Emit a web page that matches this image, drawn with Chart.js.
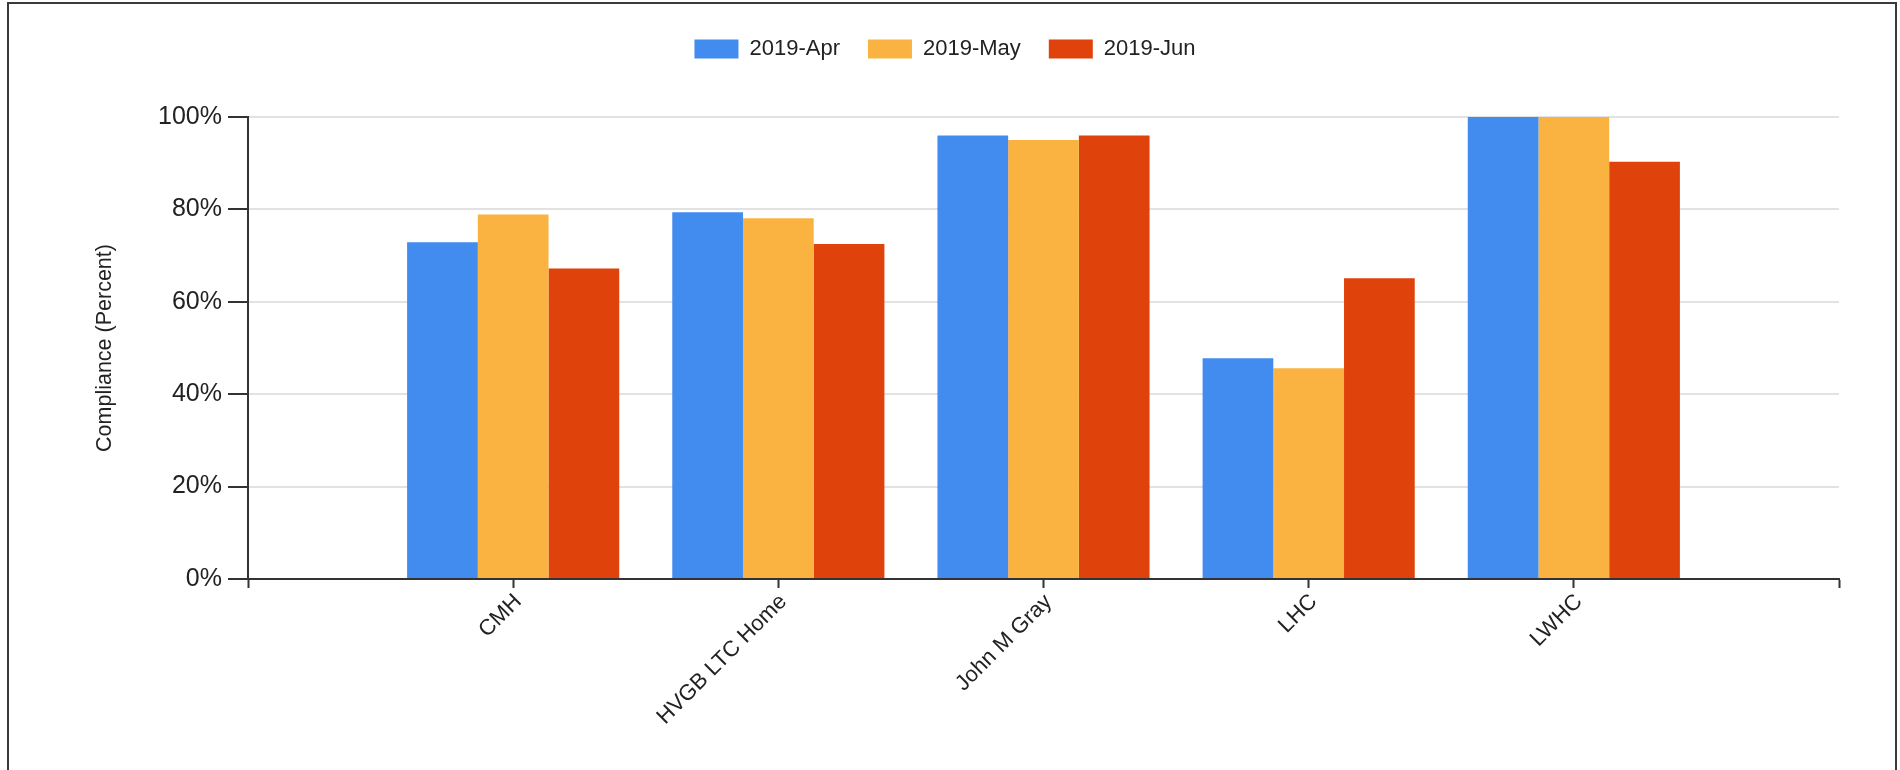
<!DOCTYPE html>
<html>
<head>
<meta charset="utf-8">
<title>Compliance by Home</title>
<script src="https://cdn.jsdelivr.net/npm/chart.js@4"></script>
<style>
    html, body { margin: 0; padding: 0; background: #fff; overflow: hidden; }
    #wrap { position: relative; width: 1900px; height: 770px; }
    #frame {
        position: absolute; left: 7px; top: 2px; width: 1886px; height: 800px;
        border: 2px solid #3a3a3a; pointer-events: none;
    }
    canvas { position: absolute; left: 0; top: 0; }
</style>
</head>
<body>
<div id="wrap">
    <canvas id="compliance-chart" width="1900" height="770"></canvas>
    <div id="frame"></div>
</div>
<script>
// values (percent)
const homes = ['CMH', 'HVGB LTC Home', 'John M Gray', 'LHC', 'LWHC'];
const months = ['2019-Apr', '2019-May', '2019-Jun'];
const aprValues = [72.9, 79.4, 96.0, 47.8, 100];
const mayValues = [78.9, 78.1, 95.0, 45.6, 100];
const junValues = [67.2, 72.5, 96.0, 65.1, 90.3];
const yTicks = [0, 20, 40, 60, 80, 100];

const colors = ['#438cef', '#fab341', '#e0420b'];
const fontFamily = "'Liberation Sans', Arial, sans-serif";

// empty slot on each side so the axis runs one category past the first and last home
const padded = arr => [null, ...arr, null];
const labels = padded(homes).map(h => h === null ? '' : h);

// extra room between the legend and the plot
const legendGap = {
    id: 'legendGap',
    beforeInit(chart) {
        const origFit = chart.legend.fit;
        chart.legend.fit = function fit() {
            origFit.bind(chart.legend)();
            this.height += 47;
        };
    }
};

const ctx = document.getElementById('compliance-chart').getContext('2d');
new Chart(ctx, {
    type: 'bar',
    data: {
        labels: labels,
        datasets: [aprValues, mayValues, junValues].map((vals, i) => ({
            label: months[i],
            data: padded(vals),
            backgroundColor: colors[i],
            borderWidth: 0,
            categoryPercentage: 0.8,
            barPercentage: 1.0
        }))
    },
    plugins: [legendGap],
    options: {
        responsive: false,
        animation: false,
        layout: { padding: { top: 10, left: 51, right: 61, bottom: 0 } },
        plugins: {
            tooltip: { enabled: false },
            legend: {
                position: 'top',
                labels: {
                    boxWidth: 44,
                    boxHeight: 19,
                    padding: 28,
                    color: '#222',
                    font: { family: fontFamily, size: 22 }
                }
            }
        },
        scales: {
            x: {
                offset: false,
                afterFit: scale => { scale.height = 191; },
                border: { display: true, color: '#333', width: 2 },
                grid: {
                    offset: false,
                    drawOnChartArea: false,
                    drawTicks: true,
                    tickLength: 9,
                    tickWidth: 2,
                    tickColor: '#333'
                },
                ticks: {
                    autoSkip: false,
                    minRotation: 45,
                    maxRotation: 45,
                    padding: 1,
                    labelOffset: 5,
                    color: '#222',
                    font: { family: fontFamily, size: 22 }
                }
            },
            y: {
                min: 0,
                max: 100,
                afterFit: scale => { scale.width = 197; },
                afterBuildTicks: scale => {
                    scale.ticks = yTicks.map(v => ({ value: v }));
                },
                border: { display: true, color: '#333', width: 2 },
                grid: {
                    color: '#e2e2e2',
                    lineWidth: 2,
                    drawTicks: true,
                    tickLength: 20,
                    tickWidth: 2,
                    tickColor: '#333'
                },
                ticks: {
                    padding: 6,
                    color: '#222',
                    font: { family: fontFamily, size: 25 },
                    callback: v => v + '%'
                },
                title: {
                    display: true,
                    text: 'Compliance (Percent)',
                    color: '#222',
                    font: { family: fontFamily, size: 21.5 },
                    padding: { top: 41, bottom: 4 }
                }
            }
        }
    }
});
</script>
</body>
</html>
